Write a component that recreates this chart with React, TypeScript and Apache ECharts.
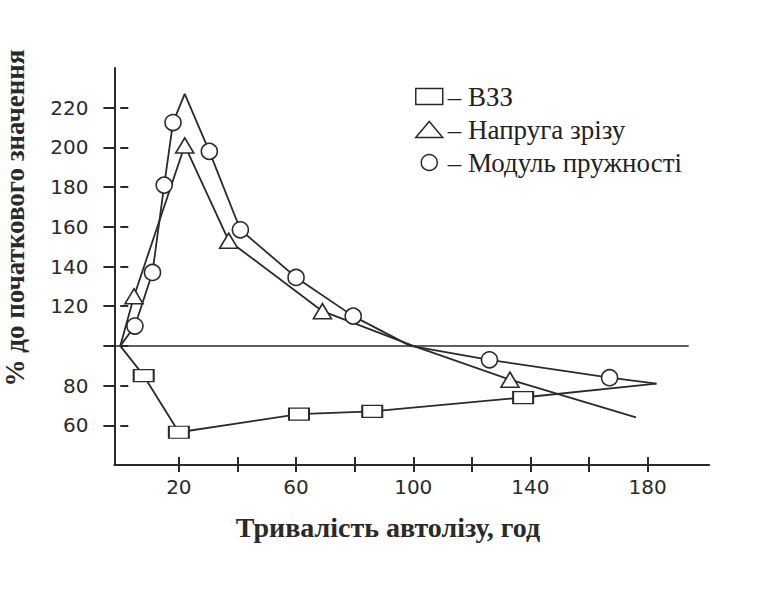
import React, { useEffect, useRef } from "react";
import * as echarts from "echarts";

// Axis ticks and labels
const xTicks = [20, 40, 60, 80, 100, 120, 140, 160, 180];
const xLabels = [20, 60, 100, 140, 180];
const yTicks = [60, 80, 100, 120, 140, 160, 180, 200, 220];
const yLabels = [60, 80, 120, 140, 160, 180, 200, 220];

// Series names
const nameVzz = "ВЗЗ";
const nameShear = "Напруга зрізу";
const nameModulus = "Модуль пружності";

// ВЗЗ (squares)
const vzzX = [0, 8, 20, 61, 86, 137.5, 183];
const vzzY = [100, 85, 56.5, 65.6, 67, 74, 81];
const vzzMarked = [false, true, true, true, true, true, false];

// Напруга зрізу (triangles)
const shearX = [0, 4.7, 22, 37, 69, 100, 133, 176];
const shearY = [100, 125, 201, 153, 117.5, 100, 83, 64];
const shearMarked = [false, true, true, true, true, false, true, false];

// Модуль пружності (circles)
const modX = [0, 5, 11, 15, 18, 22, 30.4, 41, 60, 79.5, 99, 126, 167, 183];
const modY = [100, 110, 137, 181, 212.5, 227, 198, 158.5, 134.5, 115, 100, 93, 84, 81];
const modMarked = [false, true, true, true, true, false, true, true, true, true, false, true, true, false];

const baseline = 100;
const baselineEnd = 194;

const xTitle = "Тривалість автолізу, год";
const yTitle = "% до початкового значення";

const INK = "#2a2a2a";

function build(xs: number[], ys: number[], marked: boolean[]) {
  return xs.map((x, i) =>
    marked[i] ? { value: [x, ys[i]] } : { value: [x, ys[i]], symbol: "none" }
  );
}

export default function App() {
  const ref = useRef<HTMLDivElement>(null);
  useEffect(() => {
    if (!ref.current) return;
    const chart = echarts.init(ref.current, undefined, { renderer: "svg" });
    const labelFont = { fontFamily: "DejaVu Sans", fontSize: 20, color: "#2a2a2a" };
    const lineStyle = { color: INK, width: 2 };
    const seriesCommon = {
      type: "line" as const,
      showAllSymbol: true,
      lineStyle: { color: INK, width: 1.8 },
      itemStyle: { color: "#fff", borderColor: INK, borderWidth: 1.6 },
      emphasis: { disabled: true },
      z: 3,
    };
    chart.setOption({
      animation: false,
      backgroundColor: "#fff",
      grid: { left: 114.4, right: 63.8, top: 68, bottom: 134, containLabel: false },
      legend: {
        orient: "vertical",
        left: 410,
        top: 78,
        itemWidth: 27,
        itemHeight: 16,
        itemGap: 6,
        selectedMode: false,
        itemStyle: { color: "#fff", borderColor: INK, borderWidth: 1.5 },
        textStyle: { fontFamily: "Liberation Serif", fontSize: 27, color: "#222" },
        formatter: (n: string) => "– " + n,
        data: [
          { name: nameVzz, icon: "rect" },
          { name: nameShear, icon: "triangle" },
          { name: nameModulus, icon: "circle" },
        ],
      },
      xAxis: [
        {
          type: "value",
          position: "bottom",
          min: -2,
          max: 201,
          axisLine: { show: true, onZero: false, lineStyle },
          splitLine: { show: false },
          axisTick: { show: true, length: 7, customValues: xTicks, lineStyle },
          axisLabel: { customValues: xLabels, margin: 12, ...labelFont },
        },
        {
          type: "value",
          position: "bottom",
          min: -2,
          max: 201,
          axisLine: { show: false },
          splitLine: { show: false },
          axisTick: { show: true, inside: true, length: 8, customValues: xTicks, lineStyle },
          axisLabel: { show: false },
        },
      ],
      yAxis: [
        {
          type: "value",
          position: "left",
          min: 40,
          max: 240,
          axisLine: { show: true, onZero: false, lineStyle },
          splitLine: { show: false },
          axisTick: { show: true, length: 11, customValues: yTicks, lineStyle },
          axisLabel: { customValues: yLabels, margin: 26, ...labelFont },
        },
        {
          type: "value",
          position: "left",
          min: 40,
          max: 240,
          axisLine: { show: false },
          splitLine: { show: false },
          axisTick: { show: true, inside: true, length: 8, customValues: yTicks, lineStyle },
          axisLabel: { show: false },
        },
      ],
      graphic: [
        {
          type: "text",
          x: 15,
          y: 218,
          rotation: Math.PI / 2,
          style: {
            text: yTitle,
            fontFamily: "Liberation Serif",
            fontWeight: "bold",
            fontSize: 27,
            fill: INK,
            align: "center",
            verticalAlign: "middle",
          },
        },
        {
          type: "text",
          x: 388,
          y: 527,
          style: {
            text: xTitle,
            fontFamily: "Liberation Serif",
            fontWeight: "bold",
            fontSize: 28,
            fill: INK,
            align: "center",
            verticalAlign: "middle",
          },
        },
      ],
      series: [
        {
          ...seriesCommon,
          name: nameVzz,
          symbol: "rect",
          symbolSize: [20, 12],
          data: build(vzzX, vzzY, vzzMarked),
          markLine: {
            silent: true,
            symbol: ["none", "none"],
            label: { show: false },
            lineStyle: { color: INK, width: 1.5, type: "solid" },
            data: [[{ coord: [-2, baseline] }, { coord: [baselineEnd, baseline] }]],
          },
        },
        {
          ...seriesCommon,
          name: nameShear,
          symbol: "triangle",
          symbolSize: [18, 15],
          data: build(shearX, shearY, shearMarked),
        },
        {
          ...seriesCommon,
          name: nameModulus,
          symbol: "circle",
          symbolSize: 16,
          data: build(modX, modY, modMarked),
        },
      ],
    });
    return () => chart.dispose();
  }, []);
  return (
    <div
      ref={ref}
      style={{ position: "fixed", left: 0, top: 0, width: 773, height: 599, background: "#fff" }}
    />
  );
}
